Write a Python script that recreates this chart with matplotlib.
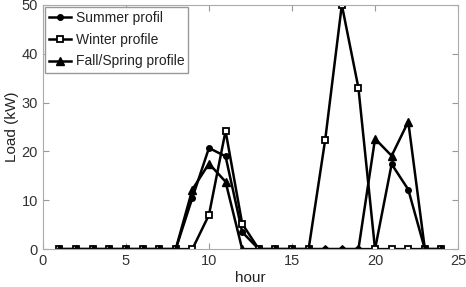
import numpy as np
import matplotlib.pyplot as plt

plt.rcParams['font.family'] = ['Liberation Sans', 'DejaVu Sans']

hours = list(range(1, 25))
summer = [0, 0, 0, 0, 0, 0, 0, 0, 10.5, 20.7, 19.0, 3.5,
          0, 0, 0, 0, 0, 0, 0, 0, 17.4, 12.2, 0, 0]
winter = [0, 0, 0, 0, 0, 0, 0, 0, 0, 7.0, 24.2, 5.2,
          0, 0, 0, 0, 22.4, 50.0, 33.0, 0, 0, 0, 0, 0]
fall_spring = [0, 0, 0, 0, 0, 0, 0, 0, 12.2, 17.5, 13.8, 0,
               0, 0, 0, 0, 0, 0, 0, 22.6, 19.1, 26.1, 0, 0]

fig = plt.figure(figsize=(4.66, 2.87), dpi=100)
ax = fig.add_axes([0.092, 0.132, 0.891, 0.851])

ax.plot(hours, summer, '-o', color='black', lw=1.8, ms=4, label='Summer profil')
ax.plot(hours, winter, '-s', color='black', lw=1.8, ms=5, mfc='white', mew=1.3,
        label='Winter profile')
ax.plot(hours, fall_spring, '-^', color='black', lw=1.8, ms=6, label='Fall/Spring profile')

ax.set_xlim(0, 25)
ax.set_ylim(0, 50)
ax.set_xticks([0, 5, 10, 15, 20, 25])
ax.set_yticks([0, 10, 20, 30, 40, 50])
ax.tick_params(direction='in', top=True, right=True, labelsize=10.5,
               colors='#999999', labelcolor='#333333', length=4)
for s in ax.spines.values():
    s.set_color('#aaaaaa')

ax.set_xlabel('hour', fontsize=11, color='#222222', labelpad=2)
ax.set_ylabel('Load (kW)', fontsize=11, color='#222222', labelpad=2)

leg = ax.legend(loc='upper left', fontsize=10, handlelength=1.6, handletextpad=0.3,
                borderaxespad=0.15, borderpad=0.3, labelspacing=0.55, fancybox=False,
                framealpha=1)
leg.get_frame().set_edgecolor('#999999')
for t in leg.get_texts():
    t.set_color('#222222')

fig.savefig('out.png', dpi=100)
